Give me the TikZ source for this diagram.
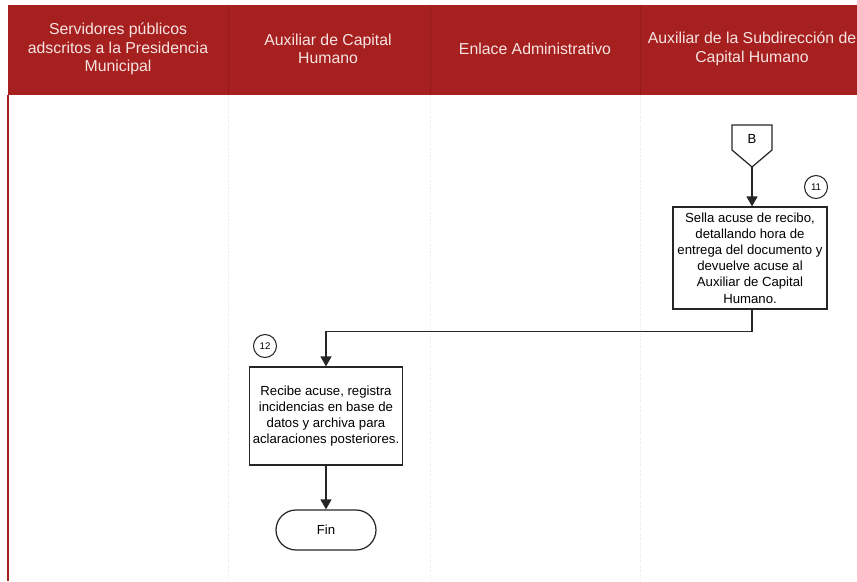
\documentclass[tikz,border=0pt]{standalone}
\usepackage{fontspec}
\setmainfont{Liberation Sans}
\usetikzlibrary{arrows.meta,positioning,calc}
\definecolor{LaneRed}{HTML}{A6201F}
\definecolor{LaneDark}{HTML}{961C1C}
\definecolor{LaneText}{HTML}{F6E4E2}
\definecolor{FlowInk}{HTML}{262626}
\tikzset{
  lanehead/.style={text=LaneText,align=center,font=\fontsize{9}{10.6}\selectfont},
  actbox/.style={draw=FlowInk,line width=0.7pt,fill=white,align=center,inner sep=2pt,font=\fontsize{7.5}{9.2}\selectfont},
  stepnum/.style={draw=FlowInk,circle,line width=0.6pt,minimum size=4.6mm,inner sep=0pt,font=\fontsize{5.5}{6}\selectfont},
  endbox/.style={draw=FlowInk,rounded corners=4mm,line width=0.7pt,minimum width=20mm,minimum height=8mm,font=\fontsize{7.5}{9}\selectfont},
  offpage/.style={inner sep=0pt,font=\fontsize{7.5}{9}\selectfont},
  flowarrow/.style={-{Triangle[length=2mm,width=2.2mm]},line width=0.8pt,draw=FlowInk},
  lanesep/.style={black!10,densely dotted,line width=0.4pt}
}

\begin{document}
\begin{tikzpicture}[x=0.02cm,y=-0.02cm]
\useasboundingbox (0,0) rectangle (857,581);
% carriles
\fill[LaneRed] (8,5) rectangle (857,95);
\foreach \xs in {228,430,640}{
  \draw[LaneDark,line width=0.4pt] (\xs,5) -- (\xs,95);
  \draw[lanesep] (\xs,95) -- (\xs,581);
}
\draw[LaneRed,line width=1pt] (8,95) -- (8,581);
\node[lanehead] (ln1) at (118,49) {Servidores públicos\\adscritos a la Presidencia\\Municipal};
\node[lanehead] (ln2) at (328,49) {Auxiliar de Capital\\Humano};
\node[lanehead] (ln3) at (535,49) {Enlace Administrativo};
\node[lanehead] (ln4) at (752,49) {Auxiliar de la Subdirección de\\Capital Humano};
% conector B
\node[offpage] (conB) at (752,139) {B};
\draw[FlowInk,line width=0.7pt] (732,125) -- (772,125) -- (772,150) -- (752,167) -- (732,150) -- cycle;
\coordinate (Btip) at (752,167);
% actividades
\node[actbox,minimum width=3.08cm,minimum height=2.04cm] (act11) at (750,258)
  {Sella acuse de recibo,\\detallando hora de\\entrega del documento y\\devuelve acuse al\\Auxiliar de Capital\\Humano.};
\node[stepnum] (n11) at (816,187) {11};
\node[actbox,minimum width=3.02cm,minimum height=1.96cm] (act12) at (326,416)
  {Recibe acuse, registra\\incidencias en base de\\datos y archiva para\\aclaraciones posteriores.};
\node[stepnum] (n12) at (265,346) {12};
\node[endbox] (fin) at (326,530) {Fin};
\draw[flowarrow] (Btip) -- (Btip |- act11.north);
\draw[flowarrow] (Btip |- act11.south) -- ++(0,22) -| (act12.north);
\draw[flowarrow] (act12.south) -- (fin.north);
\end{tikzpicture}
\end{document}
